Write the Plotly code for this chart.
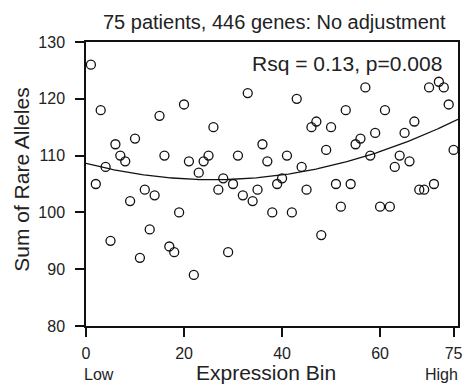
import numpy as np
import plotly.graph_objects as go

expression_bin = list(range(1, 76))
rare_alleles = [126, 105, 118, 108, 95, 112, 110, 109, 102, 113,
                92, 104, 97, 103, 117, 110, 94, 93, 100, 119,
                109, 89, 107, 109, 110, 115, 104, 106, 93, 105,
                110, 103, 121, 102, 104, 112, 109, 100, 105, 106,
                110, 100, 120, 108, 104, 115, 116, 96, 111, 115,
                105, 101, 118, 105, 112, 113, 122, 110, 114, 101,
                118, 101, 108, 110, 114, 109, 116, 104, 104, 122,
                105, 123, 122, 119, 111]
x_ticks = [0, 20, 40, 60, 75]
y_ticks = [80, 90, 100, 110, 120, 130]
title_text = "75 patients, 446 genes: No adjustment"
stat_text = "Rsq = 0.13, p=0.008"

coef = np.polyfit(expression_bin, rare_alleles, 2)
xs = np.linspace(0, 75.9, 200)
ys = np.polyval(coef, xs)

FONT = "Liberation Sans, Arial, sans-serif"
TXT = "#222222"

fig = go.Figure()
fig.add_trace(go.Scatter(x=xs, y=ys, mode="lines",
                         line=dict(color="#111111", width=1.3),
                         hoverinfo="skip", showlegend=False))
fig.add_trace(go.Scatter(x=expression_bin, y=rare_alleles, mode="markers",
                         marker=dict(symbol="circle-open", size=9,
                                     color="#111111",
                                     line=dict(color="#111111", width=1.3)),
                         showlegend=False))

fig.update_layout(
    width=469, height=387,
    margin=dict(l=86, r=6, t=42, b=61),
    plot_bgcolor="white", paper_bgcolor="white",
    font=dict(family=FONT, color=TXT, size=16),
    xaxis=dict(range=[0, 75.9], tickvals=x_ticks, ticks="outside",
               ticklen=9, tickwidth=1.5, tickcolor="#111111",
               ticklabelstandoff=3,
               showline=True, linecolor="#111111", linewidth=1.5,
               mirror=True, showgrid=False, zeroline=False,
               tickfont=dict(size=16, color=TXT)),
    yaxis=dict(range=[80, 130], tickvals=y_ticks, ticks="outside",
               ticklen=9, tickwidth=1.5, tickcolor="#111111",
               ticklabelstandoff=7,
               showline=True, linecolor="#111111", linewidth=1.5,
               mirror=True, showgrid=False, zeroline=False,
               tickfont=dict(size=16, color=TXT)),
    annotations=[
        dict(text=title_text, xref="paper", yref="paper", x=0.508, y=1.0,
             yshift=20, xanchor="center", yanchor="middle", showarrow=False,
             font=dict(size=20, color=TXT)),
        dict(text=stat_text, xref="paper", yref="paper", x=1.0, y=1.0,
             xshift=-14, yshift=-21, xanchor="right", yanchor="middle",
             showarrow=False, font=dict(size=21, color=TXT)),
        dict(text="Sum of Rare Alleles", xref="paper", yref="paper", x=0,
             y=0.515, xshift=-64, textangle=-90, xanchor="center",
             yanchor="middle", showarrow=False, font=dict(size=21, color=TXT)),
        dict(text="Expression Bin", xref="paper", yref="paper", x=0.483,
             y=0, yshift=-46, xanchor="center", yanchor="middle",
             showarrow=False, font=dict(size=21, color=TXT)),
        dict(text="Low", xref="paper", yref="paper", x=0, xshift=-4,
             y=0, yshift=-48, xanchor="left", yanchor="middle",
             showarrow=False, font=dict(size=16, color=TXT)),
        dict(text="High", xref="paper", yref="paper", x=1, xshift=2,
             y=0, yshift=-48, xanchor="right", yanchor="middle",
             showarrow=False, font=dict(size=16, color=TXT)),
    ],
)

fig.write_html("out.html")
